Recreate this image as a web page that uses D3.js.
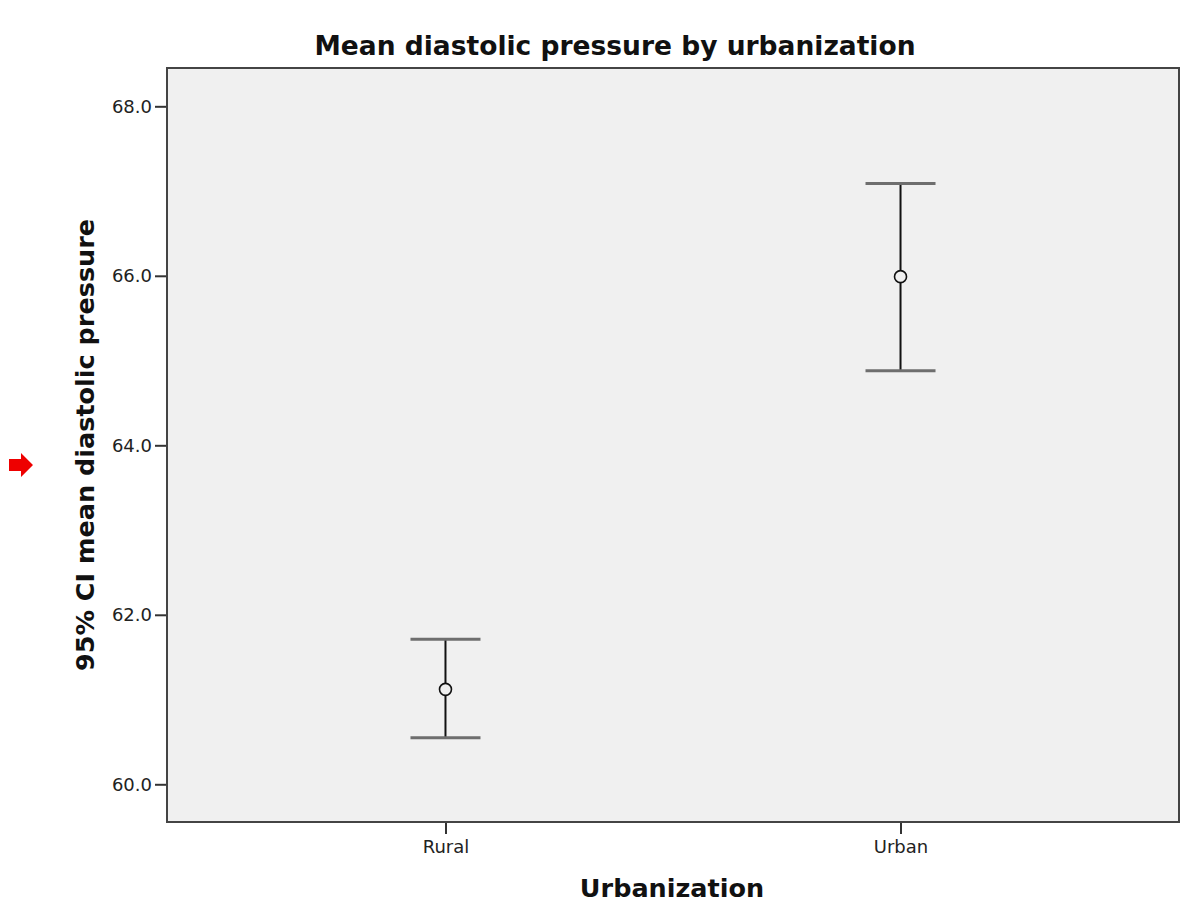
<!DOCTYPE html>
<html>
<head>
<meta charset="utf-8">
<script src="https://cdn.jsdelivr.net/npm/d3@7"></script>
<style>
html,body{margin:0;padding:0;background:#fff;}
svg{display:block;}
</style>
</head>
<body>
<svg id="chart" width="1200" height="918"></svg>
<script>
const categories = ["Rural", "Urban"];
const means = [61.12, 65.99];
const lowerCI = [60.55, 64.88];
const upperCI = [61.71, 67.09];
const yTicks = [60, 62, 64, 66, 68];

(function () {
const svg = d3.select("#chart");
const pL = 167, pR = 1179, pT = 68, pB = 822;
const FONT = "DejaVu Sans, sans-serif";

const x = d3.scalePoint().domain(categories).range([pL, pR]).padding(0.612);
const y = d3.scaleLinear().domain([59.555, 68.452]).range([pB, pT]);

svg.append("rect").attr("x", pL).attr("y", pT).attr("width", pR - pL).attr("height", pB - pT)
  .attr("fill", "#f0f0f0").attr("stroke", "#444").attr("stroke-width", 2);

const yAxis = d3.axisLeft(y).tickValues(yTicks).tickFormat(d3.format(".1f")).tickSize(11).tickPadding(3);
const gy = svg.append("g").attr("transform", `translate(${pL - 1},0)`).call(yAxis);
gy.select(".domain").remove();
gy.selectAll(".tick line").attr("stroke", "#333").attr("stroke-width", 2);
gy.selectAll(".tick text").attr("font-family", FONT).attr("font-size", 18).attr("fill", "#222");

const xAxis = d3.axisBottom(x).tickSize(11).tickPadding(6);
const gx = svg.append("g").attr("transform", `translate(0,${pB + 1})`).call(xAxis);
gx.select(".domain").remove();
gx.selectAll(".tick line").attr("stroke", "#333").attr("stroke-width", 2);
gx.selectAll(".tick text").attr("font-family", FONT).attr("font-size", 18).attr("fill", "#222");

const data = categories.map((c, i) => ({c, m: means[i], lo: lowerCI[i], hi: upperCI[i]}));
const g = svg.append("g");
g.selectAll(".stem").data(data).join("line").attr("class", "stem")
  .attr("x1", d => x(d.c)).attr("x2", d => x(d.c))
  .attr("y1", d => y(d.hi)).attr("y2", d => y(d.lo))
  .attr("stroke", "#111").attr("stroke-width", 2);
g.selectAll(".capTop").data(data).join("line").attr("class", "capTop")
  .attr("x1", d => x(d.c) - 35).attr("x2", d => x(d.c) + 35)
  .attr("y1", d => y(d.hi)).attr("y2", d => y(d.hi))
  .attr("stroke", "#6e6e6e").attr("stroke-width", 3);
g.selectAll(".capBot").data(data).join("line").attr("class", "capBot")
  .attr("x1", d => x(d.c) - 35).attr("x2", d => x(d.c) + 35)
  .attr("y1", d => y(d.lo)).attr("y2", d => y(d.lo))
  .attr("stroke", "#6e6e6e").attr("stroke-width", 3);
g.selectAll("circle").data(data).join("circle")
  .attr("cx", d => x(d.c)).attr("cy", d => y(d.m)).attr("r", 6)
  .attr("fill", "#f0f0f0").attr("stroke", "#111").attr("stroke-width", 1.6);

svg.append("text").attr("x", 615).attr("y", 55).attr("text-anchor", "middle")
  .attr("font-family", FONT).attr("font-weight", "bold").attr("font-size", 26.5)
  .attr("fill", "#111").text("Mean diastolic pressure by urbanization");

svg.append("text").attr("transform", "translate(94,445) rotate(-90)").attr("text-anchor", "middle")
  .attr("font-family", FONT).attr("font-weight", "bold").attr("font-size", 25.5)
  .attr("fill", "#111").text("95% CI mean diastolic pressure");

svg.append("text").attr("x", 672).attr("y", 897).attr("text-anchor", "middle")
  .attr("font-family", FONT).attr("font-weight", "bold").attr("font-size", 25.5)
  .attr("fill", "#111").text("Urbanization");

svg.append("path").attr("d", "M9,459 L21,459 L21,453 L33,465 L21,477 L21,471 L9,471 Z").attr("fill", "#ee0000");
})();
</script>
</body>
</html>
